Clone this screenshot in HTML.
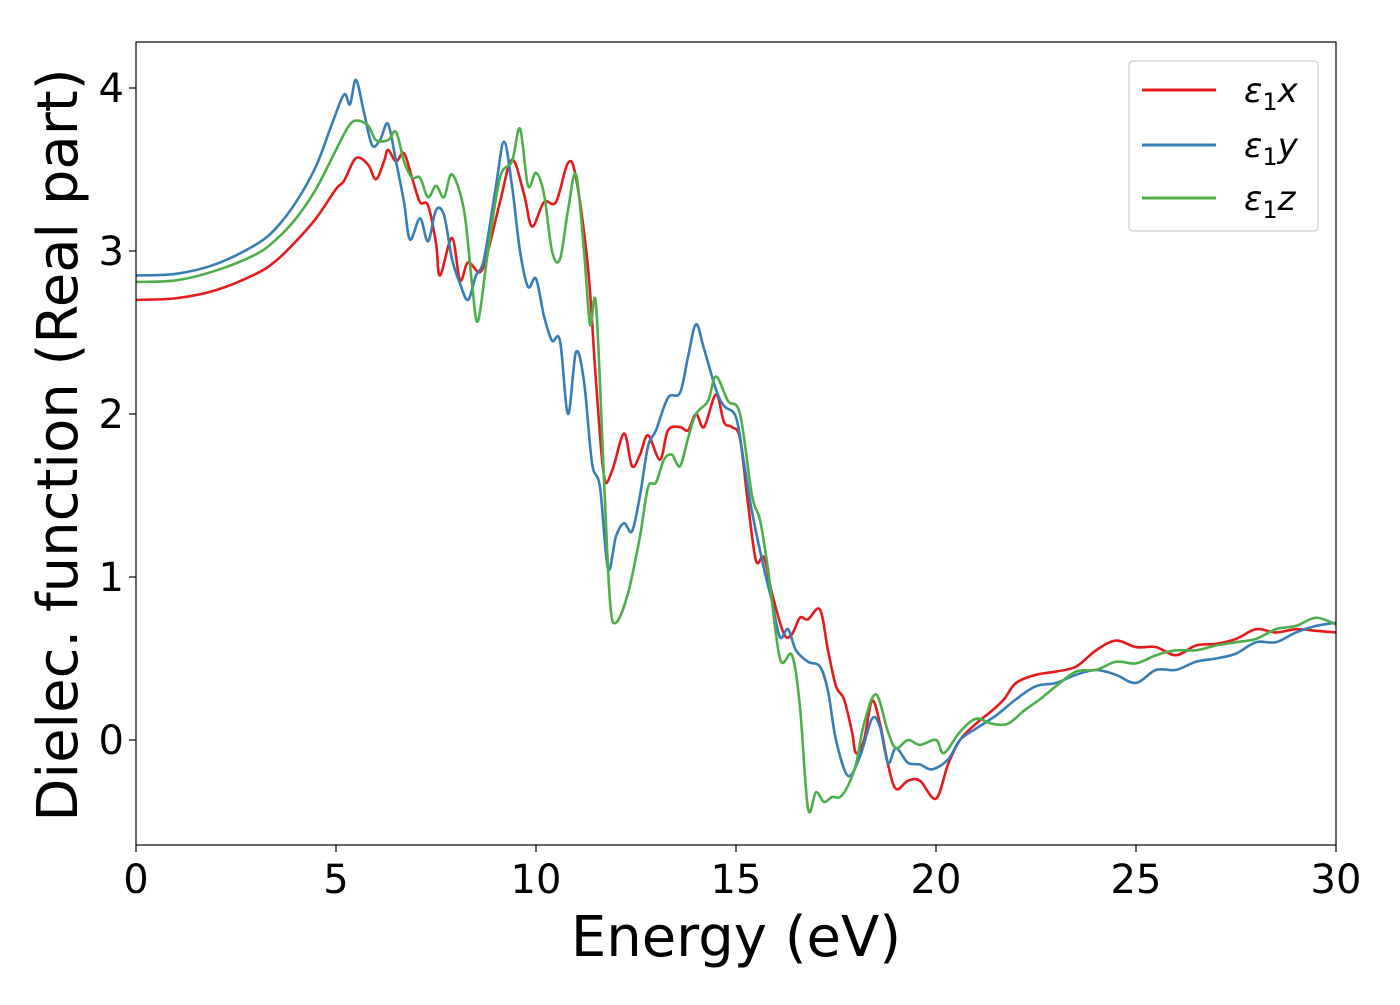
<!DOCTYPE html>
<html><head><meta charset="utf-8"><style>
body{margin:0;background:#fff}
svg text{font-family:"DejaVu Sans","Liberation Sans",sans-serif}
</style></head><body>
<svg id="chart" width="1400" height="1000" xmlns="http://www.w3.org/2000/svg">
<rect x="0" y="0" width="1400" height="1000" fill="#fff"/>
<defs><clipPath id="clip"><rect x="136" y="42" width="1200" height="803"/></clipPath></defs>
<g id="series" clip-path="url(#clip)"></g>
<rect x="136" y="42" width="1200" height="803" fill="none" stroke="#000" stroke-width="1.2"/>
<g id="ticks"></g>
<text x="736" y="956" font-size="56" text-anchor="middle">Energy (eV)</text>
<text transform="translate(77,445) rotate(-90)" font-size="56" text-anchor="middle">Dielec. function (Real part)</text>
<g>
<rect x="1129" y="61" width="189" height="170" rx="4" fill="#fff" stroke="#ccc" stroke-width="1.2"/>
<line x1="1142" y1="90" x2="1216" y2="90" stroke="#e41a1c" stroke-width="3"/>
<text x="1244" y="102" font-size="34" font-style="italic">ε<tspan font-style="normal" font-size="24" dy="8">1</tspan><tspan dy="-8">x</tspan></text>
<line x1="1142" y1="145" x2="1216" y2="145" stroke="#377eb8" stroke-width="3"/>
<text x="1244" y="157" font-size="34" font-style="italic">ε<tspan font-style="normal" font-size="24" dy="8">1</tspan><tspan dy="-8">y</tspan></text>
<line x1="1142" y1="198" x2="1216" y2="198" stroke="#4daf4a" stroke-width="3"/>
<text x="1244" y="210" font-size="34" font-style="italic">ε<tspan font-style="normal" font-size="24" dy="8">1</tspan><tspan dy="-8">z</tspan></text>
</g>
</svg>
<script>
const xTicks=[0,5,10,15,20,25,30];
const yTicks=[0,1,2,3,4];
const energyX=[0,1,2,3,3.5,4,4.5,5,5.2,5.5,5.8,6.0,6.2,6.3,6.5,6.7,6.9,7.1,7.3,7.5,7.6,7.9,8.1,8.3,8.6,8.8,9.1,9.4,9.7,9.9,10.2,10.5,10.8,11.0,11.3,11.5,11.7,11.9,12.2,12.4,12.6,12.8,13.1,13.3,13.6,13.8,14.0,14.2,14.5,14.7,14.9,15.1,15.3,15.5,15.7,15.9,16.2,16.4,16.6,16.8,17.1,17.3,17.5,17.7,17.9,18.0,18.2,18.4,18.6,18.8,19.0,19.3,19.6,20.0,20.3,20.6,21.0,21.4,21.7,22.0,22.5,23.0,23.5,24.0,24.5,25.0,25.5,26.0,26.5,27.0,27.5,28,28.5,29,29.5,30];
const epsX=[2.70,2.71,2.76,2.86,2.94,3.06,3.2,3.38,3.43,3.57,3.53,3.44,3.55,3.62,3.55,3.60,3.45,3.30,3.28,3.05,2.85,3.08,2.82,2.93,2.87,3.0,3.3,3.56,3.35,3.15,3.30,3.30,3.54,3.45,2.9,2.2,1.62,1.65,1.88,1.68,1.75,1.87,1.72,1.9,1.92,1.90,2.0,1.92,2.12,1.95,1.92,1.85,1.45,1.10,1.12,0.9,0.65,0.65,0.75,0.74,0.8,0.55,0.33,0.25,0.05,-0.08,0.0,0.24,0.1,-0.15,-0.30,-0.25,-0.25,-0.36,-0.15,0.0,0.1,0.18,0.25,0.35,0.40,0.42,0.45,0.55,0.61,0.57,0.57,0.52,0.58,0.59,0.62,0.68,0.66,0.68,0.67,0.66];
const energyY=[0,1,2,3,3.5,4,4.5,4.9,5.2,5.35,5.5,5.7,5.9,6.1,6.3,6.5,6.7,6.85,7.1,7.3,7.5,7.7,7.9,8.1,8.3,8.5,8.7,9.0,9.2,9.4,9.6,9.8,10.0,10.2,10.4,10.6,10.8,11.0,11.2,11.4,11.6,11.8,12.0,12.2,12.4,12.6,12.8,13.0,13.3,13.6,13.8,14.0,14.2,14.5,14.7,15.0,15.2,15.4,15.7,15.9,16.1,16.3,16.5,16.8,17.1,17.3,17.5,17.8,18.1,18.4,18.6,18.8,19.0,19.3,19.6,19.9,20.3,20.6,21.0,21.5,22.0,22.5,23.0,23.5,24.0,24.5,25.0,25.5,26.0,26.5,27.0,27.5,28,28.5,29,29.5,30];
const epsY=[2.85,2.86,2.92,3.04,3.14,3.30,3.52,3.78,3.96,3.90,4.05,3.85,3.65,3.68,3.78,3.55,3.30,3.07,3.20,3.06,3.25,3.22,2.95,2.80,2.70,2.85,2.95,3.4,3.67,3.40,3.00,2.78,2.83,2.60,2.45,2.45,2.0,2.38,2.2,1.7,1.55,1.05,1.25,1.33,1.28,1.5,1.80,1.9,2.1,2.13,2.35,2.55,2.40,2.15,2.05,1.98,1.70,1.40,1.05,0.85,0.63,0.68,0.55,0.48,0.45,0.30,0.0,-0.22,-0.1,0.13,0.08,-0.14,-0.05,-0.14,-0.15,-0.18,-0.12,0.0,0.07,0.15,0.25,0.33,0.35,0.40,0.43,0.40,0.35,0.43,0.43,0.48,0.50,0.53,0.60,0.60,0.66,0.70,0.72];
const energyZ=[0,1,2,3,3.5,4,4.5,5,5.3,5.5,5.8,6.0,6.3,6.5,6.7,6.9,7.1,7.3,7.5,7.7,7.9,8.2,8.4,8.55,8.8,9.1,9.4,9.6,9.8,10.0,10.2,10.4,10.6,10.8,11.0,11.2,11.35,11.5,11.7,11.85,12.0,12.3,12.6,12.8,13.0,13.2,13.4,13.6,13.8,14.0,14.3,14.5,14.8,15.1,15.4,15.6,15.8,16.1,16.4,16.6,16.8,17.0,17.2,17.4,17.6,17.8,18.0,18.2,18.5,18.8,19.0,19.3,19.6,20.0,20.2,20.6,21.0,21.4,21.8,22.2,22.6,23.0,23.5,24.0,24.5,25.0,25.5,26.0,26.5,27.0,27.5,28,28.5,29,29.5,30];
const epsZ=[2.81,2.82,2.88,2.98,3.07,3.20,3.38,3.62,3.76,3.80,3.77,3.68,3.68,3.73,3.55,3.45,3.45,3.33,3.40,3.33,3.47,3.25,2.80,2.57,3.0,3.45,3.55,3.75,3.40,3.48,3.35,3.00,2.95,3.25,3.47,3.0,2.55,2.67,1.60,0.85,0.72,0.90,1.25,1.55,1.58,1.72,1.75,1.68,1.85,2.0,2.08,2.23,2.08,2.0,1.50,1.35,1.05,0.50,0.52,0.20,-0.42,-0.32,-0.38,-0.35,-0.35,-0.28,-0.15,0.10,0.28,0.05,-0.05,0.0,-0.03,0.0,-0.08,0.05,0.13,0.10,0.10,0.18,0.25,0.33,0.42,0.43,0.48,0.47,0.52,0.55,0.55,0.58,0.60,0.62,0.68,0.70,0.75,0.71];
const NS='http://www.w3.org/2000/svg';
function sx(v){return 136+v*40;}
function sy(v){return 740-v*163;}
function pathFor(xs,ys){
  const p=xs.map((x,i)=>[sx(x),sy(ys[i])]);
  let d='M'+p[0][0]+','+p[0][1];
  for(let i=0;i<p.length-1;i++){
    const p0=p[Math.max(0,i-1)],p1=p[i],p2=p[i+1],p3=p[Math.min(p.length-1,i+2)];
    const c1=[p1[0]+(p2[0]-p0[0])/6,p1[1]+(p2[1]-p0[1])/6];
    const c2=[p2[0]-(p3[0]-p1[0])/6,p2[1]-(p3[1]-p1[1])/6];
    d+=' C'+c1[0]+','+c1[1]+' '+c2[0]+','+c2[1]+' '+p2[0]+','+p2[1];
  }
  return d;
}
const g=document.getElementById('series');
[[energyX,epsX,'#e41a1c','series-eps1-x'],[energyY,epsY,'#377eb8','series-eps1-y'],[energyZ,epsZ,'#4daf4a','series-eps1-z']].forEach(s=>{
  const el=document.createElementNS(NS,'path');
  el.setAttribute('d',pathFor(s[0],s[1]));
  el.setAttribute('fill','none');
  el.setAttribute('stroke',s[2]);
  el.setAttribute('stroke-width','2.6');
  el.setAttribute('stroke-linejoin','round');
  
  
  g.appendChild(el);
});
const t=document.getElementById('ticks');
xTicks.forEach(v=>{
  const l=document.createElementNS(NS,'line');
  l.setAttribute('x1',sx(v));l.setAttribute('x2',sx(v));l.setAttribute('y1',845);l.setAttribute('y2',852);
  l.setAttribute('stroke','#000');l.setAttribute('stroke-width','1.2');
  
  
  t.appendChild(l);
  const tx=document.createElementNS(NS,'text');
  tx.setAttribute('x',sx(v));tx.setAttribute('y',893);tx.setAttribute('font-size','40');tx.setAttribute('text-anchor','middle');
  tx.textContent=v;
  
  
  t.appendChild(tx);
});
yTicks.forEach(v=>{
  const l=document.createElementNS(NS,'line');
  l.setAttribute('x1',129);l.setAttribute('x2',136);l.setAttribute('y1',sy(v));l.setAttribute('y2',sy(v));
  l.setAttribute('stroke','#000');l.setAttribute('stroke-width','1.2');
  
  
  t.appendChild(l);
  const tx=document.createElementNS(NS,'text');
  tx.setAttribute('x',124);tx.setAttribute('y',sy(v)+14);tx.setAttribute('font-size','40');tx.setAttribute('text-anchor','end');
  tx.textContent=v;
  
  
  t.appendChild(tx);
});
</script>
</body></html>
